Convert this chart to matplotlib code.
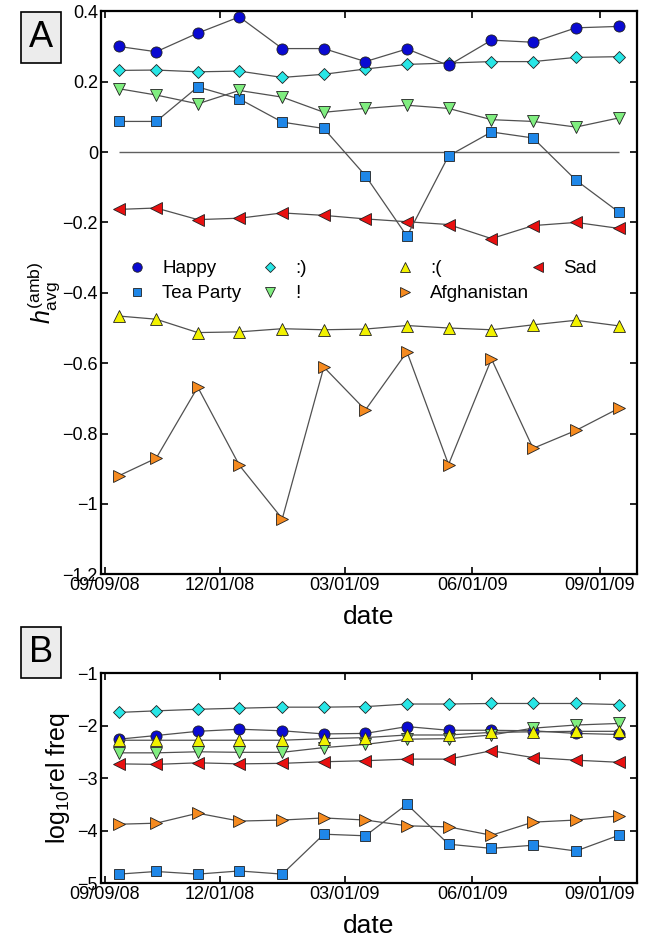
import matplotlib
matplotlib.use("Agg")
import matplotlib.pyplot as plt
from matplotlib.ticker import FuncFormatter
from matplotlib.lines import Line2D
from datetime import date

plt.rcParams['font.family'] = ['Liberation Sans', 'DejaVu Sans']
plt.rcParams['mathtext.fontset'] = 'custom'
plt.rcParams['mathtext.rm'] = 'Liberation Sans'
plt.rcParams['mathtext.it'] = 'Liberation Sans:italic'

# ---------------- data ----------------
dates = [date(2008, 9, 19), date(2008, 10, 16), date(2008, 11, 15), date(2008, 12, 15),
         date(2009, 1, 15), date(2009, 2, 14), date(2009, 3, 16), date(2009, 4, 15),
         date(2009, 5, 15), date(2009, 6, 15), date(2009, 7, 15), date(2009, 8, 15),
         date(2009, 9, 15)]

series_names = ["Happy", "Tea Party", ":)", "!", ":(", "Afghanistan", "Sad"]

# Panel A: h_avg^(amb)
happy_h = [0.300, 0.285, 0.338, 0.384, 0.294, 0.294, 0.257, 0.293, 0.246, 0.318, 0.312, 0.353, 0.357]
teaparty_h = [0.087, 0.087, 0.185, 0.151, 0.085, 0.067, -0.067, -0.239, -0.011, 0.057, 0.040, -0.080, -0.171]
smile_h = [0.232, 0.233, 0.228, 0.230, 0.212, 0.221, 0.236, 0.249, 0.253, 0.257, 0.257, 0.269, 0.271]
excl_h = [0.180, 0.162, 0.137, 0.175, 0.156, 0.113, 0.124, 0.133, 0.124, 0.092, 0.087, 0.071, 0.097]
frown_h = [-0.466, -0.475, -0.513, -0.511, -0.502, -0.505, -0.503, -0.493, -0.500, -0.505, -0.491, -0.478, -0.494]
afghan_h = [-0.920, -0.870, -0.668, -0.890, -1.042, -0.611, -0.733, -0.568, -0.888, -0.588, -0.842, -0.791, -0.728]
sad_h = [-0.163, -0.159, -0.192, -0.188, -0.173, -0.180, -0.190, -0.198, -0.206, -0.246, -0.209, -0.200, -0.217]

# Panel B: log10 relative frequency
happy_f = [-2.26, -2.19, -2.11, -2.07, -2.10, -2.16, -2.15, -2.02, -2.09, -2.09, -2.10, -2.15, -2.17]
teaparty_f = [-4.83, -4.78, -4.83, -4.77, -4.83, -4.07, -4.10, -3.50, -4.26, -4.34, -4.28, -4.39, -4.09]
smile_f = [-1.75, -1.72, -1.69, -1.67, -1.65, -1.65, -1.64, -1.59, -1.59, -1.58, -1.58, -1.58, -1.60]
excl_f = [-2.52, -2.52, -2.50, -2.51, -2.51, -2.42, -2.36, -2.26, -2.25, -2.18, -2.05, -1.99, -1.96]
frown_f = [-2.28, -2.28, -2.28, -2.28, -2.28, -2.25, -2.23, -2.18, -2.18, -2.13, -2.12, -2.11, -2.11]
afghan_f = [-3.88, -3.86, -3.67, -3.82, -3.80, -3.76, -3.80, -3.91, -3.93, -4.09, -3.84, -3.80, -3.72]
sad_f = [-2.73, -2.74, -2.71, -2.73, -2.72, -2.69, -2.67, -2.64, -2.64, -2.48, -2.61, -2.66, -2.70]

xtick_dates = [date(2008, 9, 9), date(2008, 12, 1), date(2009, 3, 1), date(2009, 6, 1), date(2009, 9, 1)]
xtick_labels = ["09/09/08", "12/01/08", "03/01/09", "06/01/09", "09/01/09"]
yticks_a = [-1.2, -1.0, -0.8, -0.6, -0.4, -0.2, 0.0, 0.2, 0.4]
yticks_b = [-5, -4, -3, -2, -1]

# legend columns (column-major, as in the reference)
legend_columns = [["Happy", "Tea Party"], [":)", "!"], [":(", "Afghanistan"], ["Sad"]]

# ---------------- styles ----------------
styles = {
    "Happy":       dict(marker='o', color='#0a0ad2', ms=8),
    "Tea Party":   dict(marker='s', color='#1f87e8', ms=7),
    ":)":          dict(marker='D', color='#28e6e6', ms=6.5),
    "!":           dict(marker='v', color='#80ee80', ms=9),
    ":(":          dict(marker='^', color='#f2f200', ms=9),
    "Afghanistan": dict(marker='>', color='#f58a1f', ms=9),
    "Sad":         dict(marker='<', color='#e81010', ms=9),
}

data_a = dict(zip(series_names, [happy_h, teaparty_h, smile_h, excl_h, frown_h, afghan_h, sad_h]))
data_b = dict(zip(series_names, [happy_f, teaparty_f, smile_f, excl_f, frown_f, afghan_f, sad_f]))

fig = plt.figure(figsize=(6.46, 9.40), dpi=100)
axA = fig.add_axes([0.156, 0.389, 0.830, 0.599])
axB = fig.add_axes([0.156, 0.0606, 0.830, 0.2234])


def fmt(v, pos):
    s = ('%g' % round(v, 6))
    if s == '-0':
        s = '0'
    return s.replace('-', '\u2212')


def draw(ax, data, order):
    for name in order:
        st = styles[name]
        ax.plot(dates, data[name], linestyle='-', color='#505050', lw=0.9,
                marker=st['marker'], markersize=st['ms'],
                markerfacecolor=st['color'], markeredgecolor='#202020',
                markeredgewidth=0.6, label=name)


for ax in (axA, axB):
    ax.set_xlim(date(2008, 9, 6), date(2009, 9, 28))
    ax.set_xticks(xtick_dates)
    ax.set_xticklabels(xtick_labels)
    ax.tick_params(direction='in', length=5, width=1.2, top=True, right=True,
                   labelsize=13, pad=2)
    for sp in ax.spines.values():
        sp.set_linewidth(1.6)
    ax.yaxis.set_major_formatter(FuncFormatter(fmt))
    ax.set_xlabel('date', fontsize=19, labelpad=8)

# Panel A
axA.hlines(0, dates[0], dates[-1], color='#606060', lw=1.0)
draw(axA, data_a, ["Afghanistan", ":(", "Sad", "Tea Party", "!", ":)", "Happy"])
axA.set_ylim(-1.2, 0.4)
axA.set_yticks(yticks_a)
axA.set_ylabel(r'$h_{\rm avg}^{\rm (amb)}$', fontsize=18, labelpad=0)

# Legend: four columns of equal spacing
col_x = [0.0495, 0.2975, 0.5495, 0.7975]
for i, (cx, names) in enumerate(zip(col_x, legend_columns)):
    hs = []
    for name in names:
        st = styles[name]
        hs.append(Line2D([], [], linestyle='none', marker=st['marker'],
                         markersize=st['ms'] * 0.85, markerfacecolor=st['color'],
                         markeredgecolor='#202020', markeredgewidth=0.6))
    leg = axA.legend(hs, names, frameon=False, fontsize=13.5, loc='upper left',
                     bbox_to_anchor=(cx, 0.558), borderaxespad=0, borderpad=0,
                     handlelength=1.0, handletextpad=0.85, labelspacing=0.42)
    if i < len(legend_columns) - 1:
        axA.add_artist(leg)

# Panel B
draw(axB, data_b, ["Tea Party", "Afghanistan", "Sad", "Happy", "!", ":(", ":)"])
axB.set_ylim(-5, -1)
axB.set_yticks(yticks_b)
axB.set_ylabel(r'log$_{10}$rel freq', fontsize=18, labelpad=4)

# Panel labels
for txt, yy in (("A", 0.9605), ("B", 0.306)):
    fig.text(0.063, yy, txt, fontsize=26, ha='center', va='center',
             bbox=dict(boxstyle='square,pad=0.22', facecolor='#ececec',
                       edgecolor='black', linewidth=1.2))

fig.savefig('out.png', dpi=100)
